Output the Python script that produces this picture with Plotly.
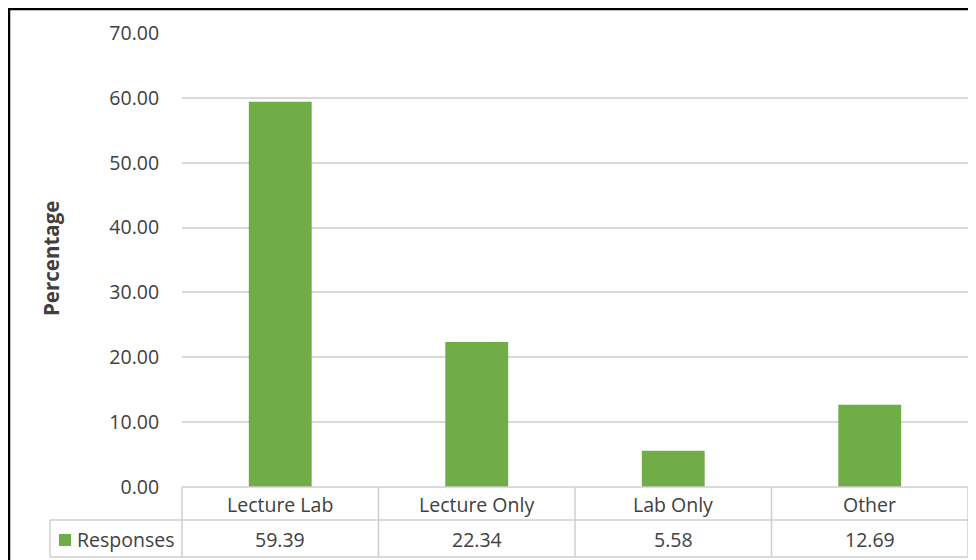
import plotly.graph_objects as go

categories = ["Lecture Lab", "Lecture Only", "Lab Only", "Other"]
responses = [59.39, 22.34, 5.58, 12.69]
series_name = "Responses"
y_ticks = [0, 10, 20, 30, 40, 50, 60, 70]
y_title = "Percentage"

# The page places the figure at an 8px body margin; work in screen pixels and shift.
OFF = 8
W, H = 976 - OFF, 560 - OFF
SL, SR, ST, SB = 182, 968, 33, 487  # plot area in screen pixels
L, R, T, B = SL - OFF, SR - OFF, ST - OFF, SB - OFF
GREEN = "#70AD47"
TEXT = "#404040"
GRID = "#D9D9D9"
TLINE = "#CFCFCF"
FONT = "Open Sans"
FS = 19.5


def px(x):
    return (x - OFF - L) / (R - L)


def py(y):
    return (B - (y - OFF)) / (B - T)


fig = go.Figure()
fig.add_trace(go.Bar(x=categories, y=responses, marker=dict(color=GREEN, line=dict(width=0)),
                     name=series_name, showlegend=False, hoverinfo="x+y"))

shapes = []
annotations = []

row1_top, row1_bot, row2_bot = 487, 520, 557
leg_left = 50
n = len(categories)
col_w = (SR - SL) / n


def hline(x0, x1, y, color=TLINE, w=1.5):
    shapes.append(dict(type="line", xref="paper", yref="paper", x0=px(x0), x1=px(x1),
                       y0=py(y), y1=py(y), line=dict(color=color, width=w), layer="above"))


def vline(x, y0, y1, color=TLINE, w=1.5):
    shapes.append(dict(type="line", xref="paper", yref="paper", x0=px(x), x1=px(x),
                       y0=py(y0), y1=py(y1), line=dict(color=color, width=w), layer="above"))


hline(SL, SR, row1_top)
hline(leg_left, SR, row1_bot)
hline(leg_left, SR, row2_bot)
vline(leg_left, row1_bot, row2_bot)
for i in range(n + 1):
    vline(SL + i * col_w, row1_top, row2_bot)

for c, v in zip(categories, responses):
    annotations.append(dict(x=c, xref="x", yref="paper", y=py((row1_top + row1_bot) / 2 + 1),
                            text=c, showarrow=False, font=dict(family=FONT, size=FS, color=TEXT),
                            xanchor="center", yanchor="middle"))
    annotations.append(dict(x=c, xref="x", yref="paper", y=py((row1_bot + row2_bot) / 2 + 1),
                            text=f"{v:.2f}", showarrow=False, font=dict(family=FONT, size=FS, color=TEXT),
                            xanchor="center", yanchor="middle"))

# legend key
shapes.append(dict(type="rect", xref="paper", yref="paper", x0=px(59), x1=px(71),
                   y0=py(546), y1=py(534), fillcolor=GREEN, line=dict(width=0)))
annotations.append(dict(x=px(75), xref="paper", yref="paper", y=py((row1_bot + row2_bot) / 2 + 1),
                        text=series_name, showarrow=False, font=dict(family=FONT, size=FS, color=TEXT),
                        xanchor="left", yanchor="middle"))

# y axis title
annotations.append(dict(x=px(51), xref="paper", yref="paper", y=py(259), text=f"<b>{y_title}</b>",
                        textangle=-90, showarrow=False, font=dict(family=FONT, size=20.5, color=TEXT),
                        xanchor="center", yanchor="middle"))

# outer frame (top and left black border)
shapes.append(dict(type="line", xref="paper", yref="paper", x0=px(8), x1=px(990),
                   y0=py(9), y1=py(9), line=dict(color="#000000", width=2.5)))
shapes.append(dict(type="line", xref="paper", yref="paper", x0=px(9), x1=px(9),
                   y0=py(8), y1=py(580), line=dict(color="#000000", width=2.5)))

fig.update_layout(
    width=W, height=H,
    margin=dict(l=L, r=W - R, t=T, b=H - B, pad=0),
    paper_bgcolor="white", plot_bgcolor="white",
    bargap=0.68,
    shapes=shapes, annotations=annotations,
    font=dict(family=FONT, color=TEXT),
    xaxis=dict(range=[-0.5, n - 0.5], showticklabels=False, showgrid=False, zeroline=False,
               showline=False, ticks=""),
    yaxis=dict(range=[0, 70], tickvals=y_ticks, ticktext=[f"{t:.2f}" for t in y_ticks],
               tickfont=dict(family=FONT, size=FS, color=TEXT),
               showgrid=True, gridcolor=GRID, gridwidth=1.8, zeroline=False, showline=False,
               ticks="outside", ticklen=18, tickcolor="rgba(0,0,0,0)"),
)

fig.write_html("out.html")
